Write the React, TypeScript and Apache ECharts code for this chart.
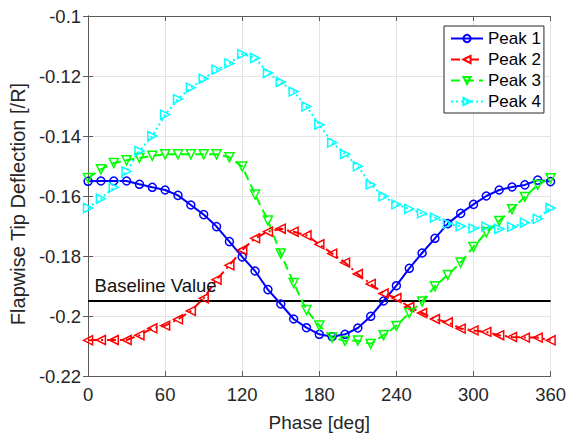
import React, { useEffect, useRef } from "react";
import * as echarts from "echarts";

const PHASE = [0, 10, 20, 30, 40, 50, 60, 70, 80, 90, 100, 110, 120, 130, 140, 150, 160, 170, 180, 190, 200, 210, 220, 230, 240, 250, 260, 270, 280, 290, 300, 310, 320, 330, 340, 350, 360];

const PEAK_1 = [-0.1551, -0.155, -0.155, -0.155, -0.1561, -0.1571, -0.158, -0.1598, -0.163, -0.1662, -0.1702, -0.1752, -0.1803, -0.185, -0.1912, -0.196, -0.201, -0.2039, -0.2061, -0.2069, -0.2061, -0.204, -0.2001, -0.195, -0.1899, -0.1841, -0.179, -0.1741, -0.1692, -0.1658, -0.1628, -0.16, -0.158, -0.157, -0.1563, -0.1547, -0.1552];

const PEAK_2 = [-0.2081, -0.208, -0.208, -0.208, -0.2064, -0.2041, -0.2032, -0.2011, -0.1983, -0.1941, -0.1879, -0.1831, -0.178, -0.1741, -0.1719, -0.1709, -0.1719, -0.1731, -0.1761, -0.1792, -0.1822, -0.186, -0.1893, -0.1925, -0.194, -0.197, -0.199, -0.201, -0.2021, -0.2042, -0.2048, -0.2053, -0.2064, -0.207, -0.2072, -0.2072, -0.2081];

const PEAK_3 = [-0.154, -0.1511, -0.149, -0.1481, -0.1473, -0.1466, -0.1461, -0.1461, -0.1461, -0.1461, -0.1461, -0.1471, -0.1502, -0.1595, -0.1682, -0.1792, -0.189, -0.198, -0.2032, -0.2072, -0.2083, -0.2082, -0.2093, -0.2064, -0.2033, -0.199, -0.1952, -0.1901, -0.1863, -0.1822, -0.177, -0.1721, -0.1683, -0.1644, -0.1603, -0.1563, -0.1541];

const PEAK_4 = [-0.164, -0.1609, -0.1571, -0.1518, -0.145, -0.14, -0.1329, -0.1277, -0.1239, -0.1209, -0.1179, -0.1158, -0.1127, -0.114, -0.119, -0.122, -0.1252, -0.1302, -0.1362, -0.1422, -0.146, -0.1501, -0.1562, -0.1601, -0.1628, -0.1643, -0.1658, -0.1672, -0.1692, -0.1701, -0.1708, -0.1702, -0.171, -0.1703, -0.1689, -0.1676, -0.164];

const BASELINE = -0.195;
const BASELINE_X = [0, 360];
const SERIES_NAMES = ["Peak 1", "Peak 2", "Peak 3", "Peak 4"];
const X_MIN = 0;
const X_MAX = 360;
const X_STEP = 60;
const Y_MIN = -0.22;
const Y_MAX = -0.1;
const Y_STEP = 0.02;

const FONT = "'Liberation Sans', Arial, Helvetica, sans-serif";
const AXIS_COLOR = "#5a5a5a";
const TEXT_COLOR = "#262626";

export default function App() {
  const ref = useRef<HTMLDivElement>(null);

  useEffect(() => {
    if (!ref.current) return;
    const chart = echarts.init(ref.current, null, { renderer: "svg" });

    const makeSeries = (
      name: string,
      values: number[],
      color: string,
      dash: any,
      symbol: string,
      rotate: number,
      size: number
    ) => ({
      name,
      type: "line",
      data: PHASE.map((p, i) => [p, values[i]]),
      symbol,
      symbolSize: size,
      symbolRotate: rotate,
      showSymbol: true,
      lineStyle: { color, width: 2, type: dash },
      itemStyle: { color: "rgba(255,255,255,0)", borderColor: color, borderWidth: 1.5 },
      emphasis: { disabled: true },
      z: 3,
    });

    const option: any = {
      animation: false,
      textStyle: { fontFamily: FONT },
      grid: { left: 83, right: 16, top: 16, bottom: 54, containLabel: false },
      legend: {
        data: SERIES_NAMES,
        orient: "vertical",
        left: 444,
        top: 26,
        itemWidth: 32,
        itemHeight: 9,
        itemGap: 4,
        padding: [4, 3, 3, 6],
        borderColor: TEXT_COLOR,
        borderWidth: 1,
        backgroundColor: "#ffffff",
        selectedMode: false,
        textStyle: { fontSize: 17, color: "#000", fontFamily: FONT },
      },
      xAxis: [
        {
          type: "value",
          min: X_MIN,
          max: X_MAX,
          interval: X_STEP,
          name: "Phase [deg]",
          nameLocation: "middle",
          nameGap: 37,
          nameTextStyle: { fontSize: 19, color: TEXT_COLOR, fontFamily: FONT },
          axisLine: { show: true, lineStyle: { color: AXIS_COLOR, width: 1 } },
          axisTick: { show: true, inside: true, length: 5, lineStyle: { color: AXIS_COLOR } },
          axisLabel: { fontSize: 18.5, color: TEXT_COLOR, margin: 9, fontFamily: FONT },
          splitLine: { show: true, lineStyle: { color: "#e4e4e4", width: 1 } },
        },
        {
          type: "value",
          position: "top",
          min: X_MIN,
          max: X_MAX,
          interval: X_STEP,
          axisLine: { show: true, lineStyle: { color: AXIS_COLOR, width: 1 } },
          axisTick: { show: true, inside: true, length: 5, lineStyle: { color: AXIS_COLOR } },
          axisLabel: { show: false },
          splitLine: { show: false },
        },
      ],
      yAxis: [
        {
          type: "value",
          min: Y_MIN,
          max: Y_MAX,
          interval: Y_STEP,
          name: "Flapwise Tip Deflection [/R]",
          nameLocation: "middle",
          nameRotate: 90,
          nameGap: 52,
          nameTextStyle: { fontSize: 20, color: TEXT_COLOR, fontFamily: FONT, padding: [0, 16, 0, 0] },
          axisLine: { show: true, lineStyle: { color: AXIS_COLOR, width: 1 } },
          axisTick: { show: true, inside: true, length: 5, lineStyle: { color: AXIS_COLOR } },
          axisLabel: { fontSize: 18.5, color: TEXT_COLOR, margin: 7, fontFamily: FONT },
          splitLine: { show: true, lineStyle: { color: "#e4e4e4", width: 1 } },
        },
        {
          type: "value",
          position: "right",
          min: Y_MIN,
          max: Y_MAX,
          interval: Y_STEP,
          axisLine: { show: true, lineStyle: { color: AXIS_COLOR, width: 1 } },
          axisTick: { show: true, inside: true, length: 5, lineStyle: { color: AXIS_COLOR } },
          axisLabel: { show: false },
          splitLine: { show: false },
        },
      ],
      series: [
        {
          name: "Baseline",
          type: "line",
          data: BASELINE_X.map((x) => [x, BASELINE]),
          symbol: "none",
          silent: true,
          z: 2,
          lineStyle: { color: "#000000", width: 2, type: "solid" },
          emphasis: { disabled: true },
          markPoint: {
            silent: true,
            symbol: "rect",
            symbolSize: 1,
            itemStyle: { color: "rgba(0,0,0,0)" },
            label: {
              show: true,
              position: "insideBottomLeft",
              formatter: "Baseline Value",
              fontSize: 18.5,
              color: "#111",
              fontFamily: FONT,
              offset: [2, -2],
            },
            data: [{ coord: [BASELINE_X[0], BASELINE] }],
          },
        },
        makeSeries(SERIES_NAMES[0], PEAK_1, "#0000ff", "solid", "circle", 0, 8),
        makeSeries(SERIES_NAMES[1], PEAK_2, "#ff0000", [9, 4, 2, 4], "triangle", 90, 9),
        makeSeries(SERIES_NAMES[2], PEAK_3, "#00ff00", [9, 5], "triangle", 180, 9),
        makeSeries(SERIES_NAMES[3], PEAK_4, "#00ffff", [2, 3], "triangle", -90, 9),
      ],
    };

    chart.setOption(option);
    return () => chart.dispose();
  }, []);

  return (
    <div
      ref={ref}
      style={{ position: "fixed", left: 0, top: 0, width: 569, height: 437, background: "#fff" }}
    />
  );
}
